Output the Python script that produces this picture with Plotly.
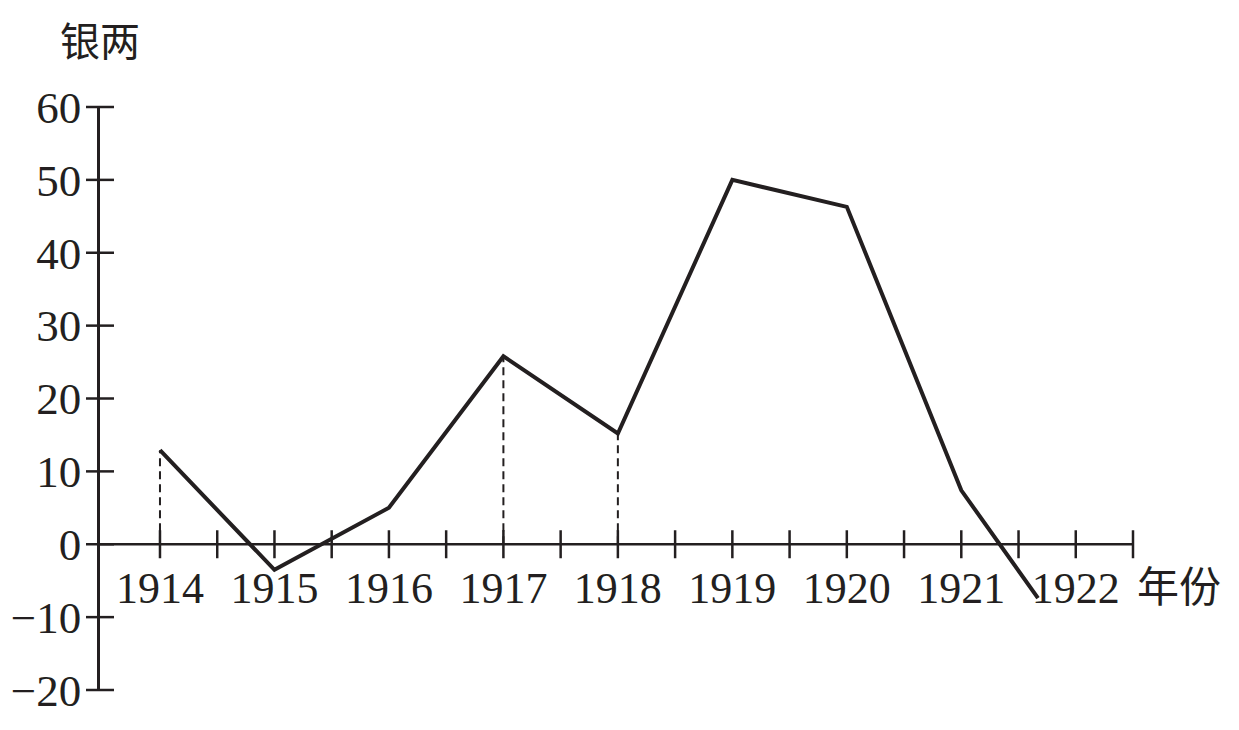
import plotly.graph_objects as go

# data
years = [1914, 1915, 1916, 1917, 1918, 1919, 1920, 1921, 1921.67]
silver = [12.9, -3.5, 5.0, 25.8, 15.2, 50.0, 46.3, 7.4, -7.4]
dash_years = [1914, 1917, 1918]
dash_values = [12.9, 25.8, 15.2]
year_ticks = [1914, 1915, 1916, 1917, 1918, 1919, 1920, 1921, 1922]
half_ticks = [1914 + 0.5 * i for i in range(18)]
y_ticks = [-20, -10, 0, 10, 20, 30, 40, 50, 60]

X0, X1 = 1913.476, 1922.5
Y0, Y1 = -20, 60
ink = "#231f20"
serif = "Liberation Serif"
cjk = "Noto Sans CJK SC"

fig = go.Figure()

# dashed drop lines
for x, v in zip(dash_years, dash_values):
    fig.add_trace(go.Scatter(
        x=[x, x], y=[0, v], mode="lines",
        line=dict(color=ink, width=2, dash="8px,5px"),
        hoverinfo="skip", cliponaxis=False,
    ))

# x axis line at y=0
fig.add_trace(go.Scatter(
    x=[X0, X1], y=[0, 0], mode="lines",
    line=dict(color=ink, width=2.5), hoverinfo="skip", cliponaxis=False,
))

# crossing tick marks
fig.add_trace(go.Scatter(
    x=half_ticks, y=[0] * len(half_ticks), mode="markers",
    marker=dict(symbol="line-ns", size=20, line=dict(color=ink, width=2.5)),
    hoverinfo="skip", cliponaxis=False,
))
fig.add_trace(go.Scatter(
    x=[X0] * len(y_ticks), y=y_ticks, mode="markers",
    marker=dict(symbol="line-ew", size=20, line=dict(color=ink, width=2.5)),
    hoverinfo="skip", cliponaxis=False,
))

# main series
fig.add_trace(go.Scatter(
    x=years, y=silver, mode="lines",
    line=dict(color=ink, width=4), cliponaxis=False,
))

# page body adds an 8px margin, so margins are trimmed by 8
fig.update_layout(
    width=1239, height=730,
    showlegend=False,
    paper_bgcolor="white", plot_bgcolor="white",
    margin=dict(l=92, r=114, t=99, b=48),
    font=dict(family=serif, color=ink, size=44),
    xaxis=dict(
        range=[X0, X1], showgrid=False, zeroline=False, showline=False,
        tickvals=year_ticks, ticktext=[str(y) for y in year_ticks],
        ticks="", anchor="free", position=0.25, automargin=False,
        ticklabelstandoff=14,
        tickfont=dict(family=serif, size=44, color=ink),
    ),
    yaxis=dict(
        range=[Y0, Y1], showgrid=False, zeroline=False, automargin=False,
        showline=True, linecolor=ink, linewidth=2.5,
        tickvals=y_ticks, ticks="", ticklabelstandoff=7,
        tickfont=dict(family=serif, size=45, color=ink),
    ),
    annotations=[
        dict(text="银两", xref="paper", yref="paper", x=0.0, y=1.0,
             yshift=68, xanchor="center", yanchor="middle", showarrow=False,
             font=dict(family=cjk, size=40, color=ink)),
        dict(text="年份", xref="x", yref="y", x=X1, y=0, xshift=2,
             yshift=-39, xanchor="left", yanchor="middle", showarrow=False,
             font=dict(family=cjk, size=42, color=ink)),
    ],
)

fig.write_html("out.html")
